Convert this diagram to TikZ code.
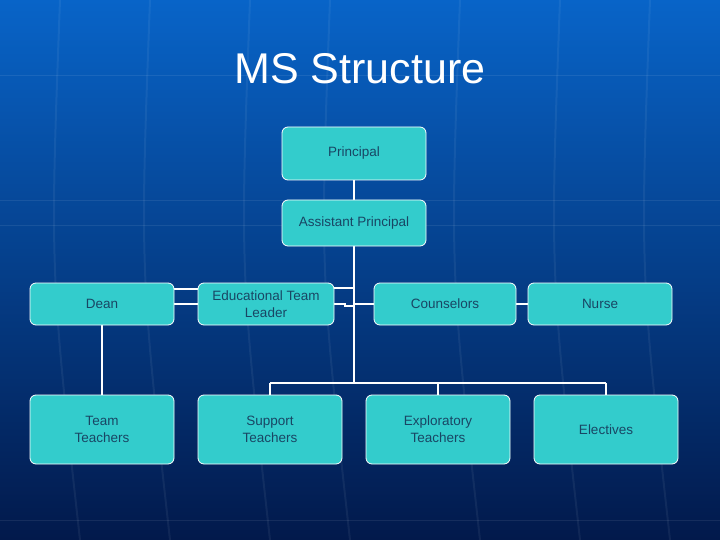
\documentclass[tikz,border=0pt]{standalone}
\usepackage{fontspec}
\setmainfont{Liberation Sans}
\begin{document}
\begin{tikzpicture}[x=1pt,y=-1pt,
  box/.style={draw=white,line width=0.8pt,fill=boxc,rounded corners=6pt,align=center,
    text=txt,font=\fontsize{13.5}{17}\selectfont,inner sep=0pt},
  ln/.style={draw=white,line width=1.5pt}]
\definecolor{boxc}{RGB}{51,204,204}
\definecolor{txt}{RGB}{25,70,100}
\definecolor{topb}{RGB}{8,100,200}
\definecolor{botb}{RGB}{2,25,75}
\useasboundingbox (0,0) rectangle (720,540);
\shade[top color=topb,bottom color=botb] (0,0) rectangle (720,540);
\foreach \yy in {75,200,225,520}{\draw[white,opacity=0.08] (0,\yy)--(720,\yy);}
\foreach \xx in {60,150,250,330,460,560,650}{\draw[white,opacity=0.06,line width=2pt] (\xx,0) .. controls (\xx-10,270) .. (\xx+20,540);}
\node (title) [text=white,font=\fontsize{43}{50}\selectfont] at (360,69) {MS Structure};
% connectors
\draw[ln] (354,180)--(354,383);
\draw[ln] (270,383)--(606,383);
\draw[ln] (270,383)--(270,395);
\draw[ln] (438,383)--(438,395);
\draw[ln] (606,383)--(606,395);
\draw[ln] (354,304)--(374,304);
\draw[ln] (516,304)--(528,304);
\draw[ln] (334,288)--(354,288);
\draw[ln] (334,304)--(345,304)--(345,306)--(354,306);
\draw[ln] (174,289)--(198,289);
\draw[ln] (174,304)--(198,304);
\draw[ln] (102,325)--(102,395);
% nodes
\node[box,minimum width=144pt,minimum height=53pt] (p) at (354,153.5) {Principal};
\node[box,minimum width=144pt,minimum height=46pt] (ap) at (354,223) {Assistant Principal};
\node[box,minimum width=144pt,minimum height=42pt] (dean) at (102,304) {Dean};
\node[box,minimum width=136pt,minimum height=42pt] (edu) at (266,304) {Educational Team\\Leader};
\node[box,minimum width=142pt,minimum height=42pt] (cou) at (445,304) {Counselors};
\node[box,minimum width=144pt,minimum height=42pt] (nur) at (600,304) {Nurse};
\node[box,minimum width=144pt,minimum height=69pt] (tt) at (102,429.5) {Team\\Teachers};
\node[box,minimum width=144pt,minimum height=69pt] (st) at (270,429.5) {Support\\Teachers};
\node[box,minimum width=144pt,minimum height=69pt] (et) at (438,429.5) {Exploratory\\Teachers};
\node[box,minimum width=144pt,minimum height=69pt] (el) at (606,429.5) {Electives};
\end{tikzpicture}
\end{document}
